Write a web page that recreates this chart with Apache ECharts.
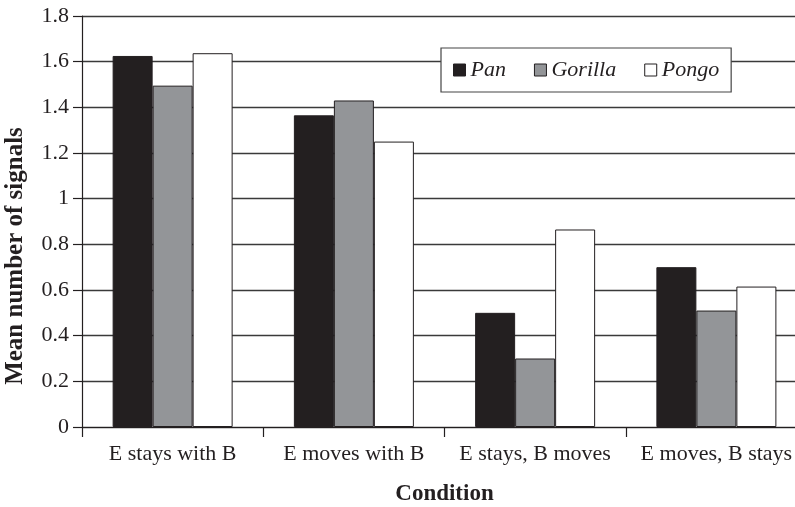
<!DOCTYPE html>
<html>
<head>
<meta charset="utf-8">
<script src="https://cdn.jsdelivr.net/npm/echarts@6/dist/echarts.min.js"></script>
<style>
  html, body { margin: 0; padding: 0; background: #fff; }
  #chart { width: 795px; height: 507px; }
</style>
</head>
<body>
<div id="chart"></div>
<script>
// Experimental conditions along the x axis
const conditions = ['E stays with B', 'E moves with B', 'E stays, B moves', 'E moves, B stays'];

// Mean number of signals per genus
const panValues = [1.625, 1.365, 0.5, 0.70];
const gorillaValues = [1.495, 1.43, 0.30, 0.51];
const pongoValues = [1.637, 1.25, 0.865, 0.615];

const seriesNames = ['Pan', 'Gorilla', 'Pongo'];
const yTicks = { min: 0, max: 1.8, step: 0.2 };

const serif = '"Liberation Serif", "DejaVu Serif", serif';
const ink = '#231f20';

const barStyle = (fill) => ({ color: fill, borderColor: ink, borderWidth: 1 });

const chart = echarts.init(document.getElementById('chart'), null, { renderer: 'canvas' });

chart.setOption({
  animation: false,
  backgroundColor: '#ffffff',
  grid: { left: 82, top: 16, width: 725, height: 411, containLabel: false, outerBoundsMode: 'none' },
  legend: {
    left: 441,
    top: 48,
    padding: [11, 12, 11, 12],
    borderColor: '#444',
    borderWidth: 1.2,
    backgroundColor: '#ffffff',
    itemWidth: 12,
    itemHeight: 12,
    itemGap: 28,
    itemTextGap: 4,
    icon: 'rect',
    itemStyle: { borderColor: ink, borderWidth: 1 },
    textStyle: { fontFamily: serif, fontStyle: 'italic', fontSize: 22, color: ink },
    data: seriesNames
  },
  // y axis title, placed a little below the axis midpoint
  graphic: [{
    type: 'text',
    rotation: Math.PI / 2,
    x: 16,
    y: 256,
    style: {
      text: 'Mean number of signals',
      font: 'bold 25px ' + serif,
      fill: ink,
      textAlign: 'center',
      textVerticalAlign: 'middle'
    }
  }],
  xAxis: {
    type: 'category',
    data: conditions,
    name: 'Condition',
    nameLocation: 'middle',
    nameGap: 56,
    nameTextStyle: { fontFamily: serif, fontWeight: 'bold', fontSize: 23, color: ink },
    axisLine: { lineStyle: { color: ink, width: 1.2 } },
    axisTick: { show: true, length: 10, lineStyle: { color: ink, width: 1.2 } },
    axisLabel: { fontFamily: serif, fontSize: 22, color: ink, margin: 16, interval: 0 }
  },
  yAxis: {
    type: 'value',
    min: yTicks.min,
    max: yTicks.max,
    interval: yTicks.step,
    axisLine: { show: true, lineStyle: { color: ink, width: 1.2 } },
    axisTick: { show: true, length: 9, lineStyle: { color: ink, width: 1.2 } },
    splitLine: { show: true, lineStyle: { color: '#3a3a3a', width: 1.3 } },
    axisLabel: { fontFamily: serif, fontSize: 22, color: ink, margin: 13 }
  },
  series: [
    { name: seriesNames[0], type: 'bar', data: panValues, barWidth: 40, barGap: '0%', itemStyle: barStyle(ink) },
    { name: seriesNames[1], type: 'bar', data: gorillaValues, barWidth: 40, barGap: '0%', itemStyle: barStyle('#939598') },
    { name: seriesNames[2], type: 'bar', data: pongoValues, barWidth: 40, barGap: '0%', itemStyle: barStyle('#ffffff') }
  ]
});
</script>
</body>
</html>
